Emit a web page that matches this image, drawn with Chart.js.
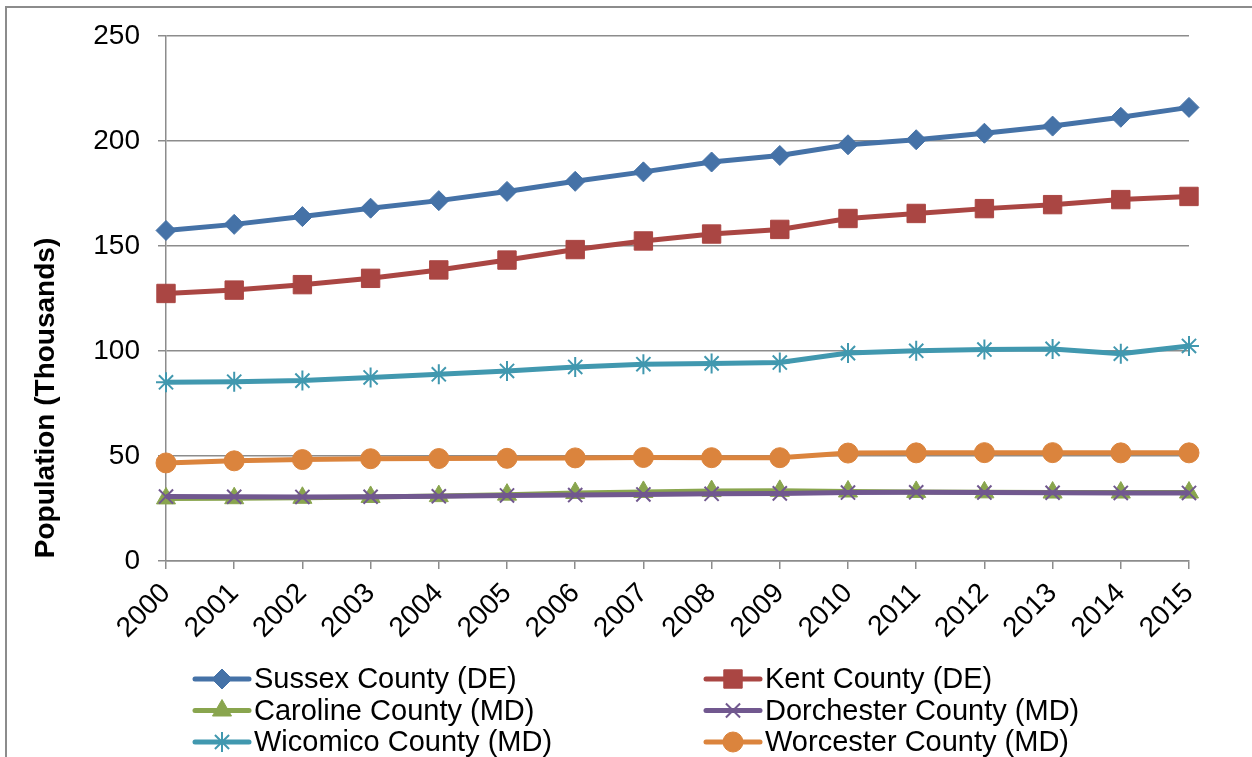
<!DOCTYPE html>
<html>
<head>
<meta charset="utf-8">
<script src="https://cdn.jsdelivr.net/npm/chart.js@4.4.0/dist/chart.umd.min.js"></script>
<style>
  body { margin: 0; background: #fff; overflow: hidden; }
  #frame { position: absolute; left: 5px; top: 6px; width: 1300px; height: 800px; border: 2px solid #8c8c8c; }
  #myChart { position: absolute; left: 0; top: 0; }
</style>
</head>
<body>
<div id="frame"></div>
<canvas id="myChart" width="1252" height="757"></canvas>
<script>
// population, thousands
const years = ["2000","2001","2002","2003","2004","2005","2006","2007","2008","2009","2010","2011","2012","2013","2014","2015"]
const sussex =     [157.4, 160.3, 164.0, 168.0, 171.6, 176.0, 180.8, 185.3, 190.0, 193.1, 198.2, 200.6, 203.7, 207.1, 211.3, 216.0]
const kent =       [127.4, 129.0, 131.6, 134.6, 138.6, 143.3, 148.3, 152.4, 155.7, 157.9, 163.1, 165.5, 167.8, 169.7, 172.1, 173.6]
const caroline =   [29.8, 29.9, 30.1, 30.5, 30.9, 31.6, 32.4, 32.9, 33.3, 33.4, 33.1, 32.9, 32.7, 32.6, 32.6, 32.6]
const dorchester = [30.7, 30.6, 30.5, 30.6, 30.8, 31.2, 31.4, 31.7, 32.0, 32.2, 32.6, 32.7, 32.6, 32.5, 32.4, 32.4]
const wicomico =   [85.1, 85.4, 85.9, 87.4, 88.9, 90.5, 92.4, 93.7, 94.1, 94.5, 99.0, 100.1, 100.7, 101.0, 98.7, 102.4]
const worcester =  [46.7, 47.7, 48.3, 48.7, 48.8, 48.9, 49.1, 49.3, 49.2, 49.2, 51.4, 51.5, 51.6, 51.6, 51.5, 51.5]

const seriesNames = ["Sussex County (DE)","Kent County (DE)","Caroline County (MD)","Dorchester County (MD)","Wicomico County (MD)","Worcester County (MD)"]
const seriesData = [sussex, kent, caroline, dorchester, wicomico, worcester]
const colors = ["#4572a7","#aa4643","#89a54e","#71588f","#4198af","#db843d"]
const markers = ["rectRot","rect","triangle","crossRot","star","circle"]
const markerSize = [10, 13, 11, 10, 10, 10]
const yTitle = "Population (Thousands)"

const fontName = "'Liberation Sans', Arial, sans-serif"

let datasets = []
for (let i = 0; i < seriesNames.length; i++) {
    let open = markers[i] == "crossRot" || markers[i] == "star"
    datasets.push({
        label: seriesNames[i],
        data: seriesData[i],
        borderColor: colors[i],
        backgroundColor: colors[i],
        borderWidth: 5,
        pointStyle: markers[i],
        pointRadius: markerSize[i],
        pointHoverRadius: markerSize[i],
        pointBorderWidth: open ? 2 : 1,
        pointBackgroundColor: colors[i],
        pointBorderColor: colors[i],
        tension: 0,
        order: 10 - i
    })
}

// legend in two columns under the axis, like the office chart
const legendBox = {
    id: "legendBox",
    afterDraw(chart) {
        const ctx = chart.ctx
        const colX = [195, 706]
        ctx.save()
        for (let i = 0; i < datasets.length; i++) {
            let x = colX[i % 2]
            let y = 679 + Math.floor(i / 2) * 31.5
            let open = markers[i] == "crossRot" || markers[i] == "star"
            ctx.strokeStyle = colors[i]
            ctx.fillStyle = colors[i]
            ctx.lineWidth = 5
            ctx.lineCap = "round"
            ctx.beginPath()
            ctx.moveTo(x, y)
            ctx.lineTo(x + 54, y)
            ctx.stroke()
            ctx.lineCap = "butt"
            ctx.lineWidth = open ? 2 : 1
            Chart.helpers.drawPoint(ctx, {
                pointStyle: markers[i],
                radius: markerSize[i],
                borderWidth: open ? 2 : 1,
                rotation: 0
            }, x + 27, y)
            ctx.fillStyle = "#000"
            ctx.font = "29px " + fontName
            ctx.textAlign = "left"
            ctx.textBaseline = "middle"
            ctx.fillText(seriesNames[i], x + 59, y + 1)
        }
        // y axis title
        ctx.translate(46, 398)
        ctx.rotate(-Math.PI / 2)
        ctx.font = "bold 28px " + fontName
        ctx.textAlign = "center"
        ctx.textBaseline = "middle"
        ctx.fillText(yTitle, 0, 0)
        ctx.restore()
    }
}

new Chart("myChart", {
    type: "line",
    data: {
        labels: years,
        datasets: datasets
    },
    options: {
        responsive: false,
        animation: false,
        events: [],
        layout: { padding: { top: 36, right: 63, left: 0, bottom: 100 } },
        plugins: {
            legend: { display: false },
            tooltip: { enabled: false }
        },
        scales: {
            x: {
                offset: false,
                grid: { drawOnChartArea: false, drawTicks: true, tickLength: 8, color: "#8c8c8c", lineWidth: 1.5 },
                border: { display: true, color: "#8c8c8c", width: 1.5 },
                ticks: { color: "#000", font: { family: fontName, size: 28 }, minRotation: 45, maxRotation: 45, padding: 8 },
                afterFit: function(scale) { scale.height = 96 }
            },
            y: {
                min: 0,
                max: 250,
                grid: { color: "#8c8c8c", lineWidth: 1.5, tickLength: 8 },
                border: { display: true, color: "#8c8c8c", width: 1.5 },
                ticks: { stepSize: 50, color: "#000", font: { family: fontName, size: 28 }, padding: 18 },
                afterFit: function(scale) { scale.width = 166 }
            }
        }
    },
    plugins: [legendBox]
})
</script>
</body>
</html>
